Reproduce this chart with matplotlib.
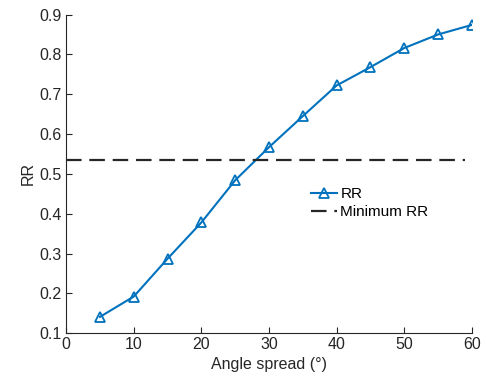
import numpy as np
import matplotlib.pyplot as plt

plt.rcParams['font.family'] = ['Liberation Sans', 'DejaVu Sans']

# Data
angle_spread = [5, 10, 15, 20, 25, 30, 35, 40, 45, 50, 55, 60]
rr = [0.141, 0.192, 0.287, 0.378, 0.484, 0.567, 0.645, 0.722, 0.768, 0.816, 0.850, 0.874]
min_rr = 0.535
min_rr_span = [0, 59]

fig = plt.figure(figsize=(4.86, 3.83), dpi=100)
ax = fig.add_axes([0.136, 0.130, 0.835, 0.832])

ax.plot(angle_spread, rr, color='#0072BD', linewidth=1.5, marker='^',
        markersize=7, markerfacecolor='none', markeredgewidth=1.3, label='RR')
ax.plot(min_rr_span, [min_rr, min_rr], color='#262626', linewidth=1.6,
        linestyle=(0, (7, 3.5)), label='Minimum RR')

ax.set_xlim(0, 60)
ax.set_ylim(0.1, 0.9)
ax.set_xticks(np.arange(0, 61, 10))
ax.set_yticks(np.round(np.arange(0.1, 0.91, 0.1), 1))
ax.set_xlabel('Angle spread (°)', fontsize=11.5, color='#262626', labelpad=3)
ax.set_ylabel('RR', fontsize=11.5, color='#262626', labelpad=3)

for s in ['top', 'right']:
    ax.spines[s].set_visible(False)
for s in ['left', 'bottom']:
    ax.spines[s].set_color('#262626')
    ax.spines[s].set_linewidth(0.8)
ax.tick_params(direction='in', length=4, width=0.8, colors='#262626',
               labelsize=11.5, pad=3)

ax.legend(loc='upper left', bbox_to_anchor=(0.595, 0.468), frameon=False,
          fontsize=11, handlelength=1.75, handletextpad=0.2, labelspacing=0.25,
          borderpad=0.2, borderaxespad=0)

fig.savefig('out.png', dpi=100)
